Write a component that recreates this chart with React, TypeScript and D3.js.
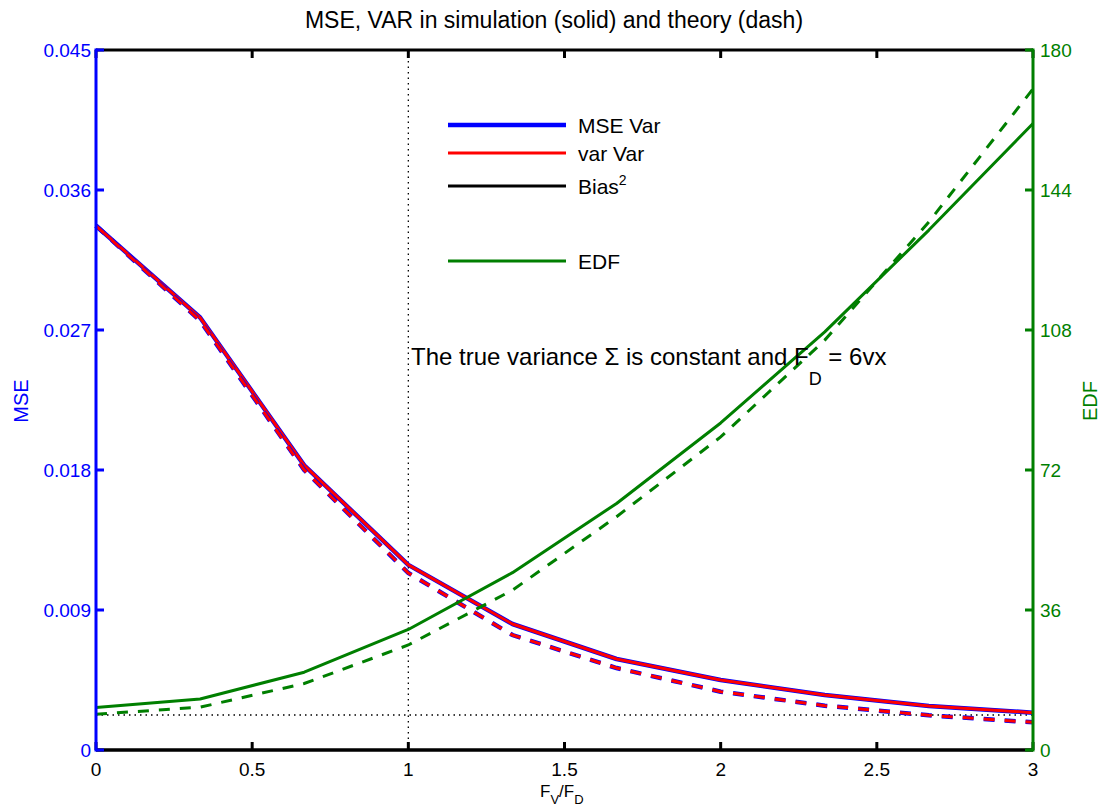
import React from "react";
import * as d3 from "d3";

// ---- data ----
const xs = [0, 1 / 3, 2 / 3, 1, 4 / 3, 5 / 3, 2, 7 / 3, 8 / 3, 3];
const mseSim = [0.0337, 0.0278, 0.0183, 0.0119, 0.0081, 0.00585, 0.0045, 0.00354, 0.00283, 0.0024];
const varSim = [0.0337, 0.0278, 0.0183, 0.0119, 0.0081, 0.00585, 0.0045, 0.00354, 0.00283, 0.0024];
const mseTheory = [0.0337, 0.0276, 0.018, 0.01138, 0.00739, 0.00527, 0.00375, 0.00285, 0.00223, 0.00178];
const varTheory = [0.0337, 0.0276, 0.018, 0.01138, 0.00739, 0.00527, 0.00375, 0.00285, 0.00223, 0.00178];
const biasSim = [0, 0, 0, 0, 0, 0, 0, 0, 0, 0];
const edfSim = [10.9, 13.1, 20.0, 31.0, 45.6, 63.4, 84.1, 107.5, 133.7, 161.1];
const edfTheory = [9.2, 11.0, 17.1, 27.0, 41.1, 60.0, 80.5, 105.4, 135.8, 170.0];
const refLevel = 0.00225;
const refX = 1;

const xTicks = [0, 0.5, 1, 1.5, 2, 2.5, 3];
const xTickLabels = ["0", "0.5", "1", "1.5", "2", "2.5", "3"];
const yLeftTicks = [0, 0.009, 0.018, 0.027, 0.036, 0.045];
const yLeftLabels = ["0", "0.009", "0.018", "0.027", "0.036", "0.045"];
const yRightTicks = [0, 36, 72, 108, 144, 180];
const yRightLabels = ["0", "36", "72", "108", "144", "180"];

const legendItems = [
  { label: "MSE Var", color: "#0000ff", w: 4.5 },
  { label: "var Var", color: "#ff0000", w: 3 },
  { label: "Bias", sup: "2", color: "#000000", w: 3 },
  { label: "EDF", color: "#007f00", w: 3 },
];

const BLUE = "#0000ff";
const RED = "#ff0000";
const GREEN = "#007f00";
const FONT = "'Liberation Sans', Arial, sans-serif";

export default function App() {
  const L = 96, R = 1033, T = 50, B = 750;
  const x = d3.scaleLinear().domain([0, 3]).range([L, R]);
  const yL = d3.scaleLinear().domain([0, 0.045]).range([B, T]);
  const yR = d3.scaleLinear().domain([0, 180]).range([B, T]);

  const lineL = (vals: number[]) =>
    d3.line<number>().x((_, i) => x(xs[i])).y((v) => yL(v))(vals) || "";
  const lineR = (vals: number[]) =>
    d3.line<number>().x((_, i) => x(xs[i])).y((v) => yR(v))(vals) || "";

  const dash = "11,10";
  const legY = [125, 153, 186, 261];
  const tickFs = 19;

  return (
    <svg width={1102} height={808} style={{ position: "absolute", left: 0, top: 0, background: "#fff" }} fontFamily={FONT}>
      <rect x={0} y={0} width={1102} height={808} fill="#fff" />
      {/* reference dotted lines */}
      <line x1={x(refX)} x2={x(refX)} y1={T} y2={B} stroke="#000" strokeWidth={1.3} strokeDasharray="1.5,4" />
      <line x1={L} x2={R} y1={yL(refLevel)} y2={yL(refLevel)} stroke="#000" strokeWidth={1.3} strokeDasharray="1.5,4" />

      {/* left-axis series */}
      <path d={lineL(mseSim)} fill="none" stroke={BLUE} strokeWidth={4.5} strokeLinejoin="round" />
      <path d={lineL(varSim)} fill="none" stroke={RED} strokeWidth={3} strokeLinejoin="round" />
      <path d={lineL(mseTheory)} fill="none" stroke={BLUE} strokeWidth={4.5} strokeDasharray={dash} />
      <path d={lineL(varTheory)} fill="none" stroke={RED} strokeWidth={3} strokeDasharray={dash} />
      <path d={lineL(biasSim)} fill="none" stroke="#000" strokeWidth={3} />

      {/* right-axis series */}
      <path d={lineR(edfSim)} fill="none" stroke={GREEN} strokeWidth={3} strokeLinejoin="round" />
      <path d={lineR(edfTheory)} fill="none" stroke={GREEN} strokeWidth={3} strokeDasharray={dash} />

      {/* axes frame */}
      <line x1={L} x2={R} y1={B} y2={B} stroke="#000" strokeWidth={3} />
      <line x1={L} x2={R} y1={T} y2={T} stroke="#000" strokeWidth={3} />
      {xTicks.map((t, i) => (
        <g key={"xt" + i}>
          <line x1={x(t)} x2={x(t)} y1={B} y2={B - 8} stroke="#000" strokeWidth={3} />
          <line x1={x(t)} x2={x(t)} y1={T} y2={T + 8} stroke="#000" strokeWidth={3} />
          <text x={x(t)} y={776} fontSize={tickFs} textAnchor="middle" fill="#000">{xTickLabels[i]}</text>
        </g>
      ))}
      <line x1={L} x2={L} y1={T - 1.5} y2={B + 1.5} stroke={BLUE} strokeWidth={3} />
      {yLeftTicks.map((t, i) => (
        <g key={"yl" + i}>
          <line x1={L} x2={L + 8} y1={yL(t)} y2={yL(t)} stroke={BLUE} strokeWidth={3} />
          <text x={91} y={yL(t) + 7} fontSize={tickFs} textAnchor="end" fill={BLUE}>{yLeftLabels[i]}</text>
        </g>
      ))}
      <line x1={R} x2={R} y1={T - 1.5} y2={B + 1.5} stroke={GREEN} strokeWidth={3} />
      {yRightTicks.map((t, i) => (
        <g key={"yr" + i}>
          <line x1={R} x2={R - 8} y1={yR(t)} y2={yR(t)} stroke={GREEN} strokeWidth={3} />
          <text x={1040} y={yR(t) + 7} fontSize={tickFs} textAnchor="start" fill={GREEN}>{yRightLabels[i]}</text>
        </g>
      ))}

      {/* title and axis labels */}
      <text x={554} y={28} fontSize={23} textAnchor="middle" fill="#000">MSE, VAR in simulation (solid) and theory (dash)</text>
      <text transform="translate(28,401) rotate(-90)" fontSize={20} textAnchor="middle" fill={BLUE}>MSE</text>
      <text transform="translate(1097,401) rotate(-90)" fontSize={20} textAnchor="middle" fill={GREEN}>EDF</text>
      <text x={540} y={797} fontSize={17} fill="#000">
        F<tspan fontSize={13} dy={7}>V</tspan><tspan dy={-7}>/F</tspan><tspan fontSize={13} dy={7}>D</tspan>
      </text>

      {/* annotation */}
      <text x={411} y={365} fontSize={24} fill="#000">
        The true variance Σ is constant and F<tspan fontSize={18} dy={20}>D</tspan><tspan dy={-20}> = 6vx</tspan>
      </text>

      {/* legend */}
      {legendItems.map((it, i) => (
        <g key={"lg" + i}>
          <line x1={448} x2={566} y1={legY[i]} y2={legY[i]} stroke={it.color} strokeWidth={it.w} />
          <text x={578} y={legY[i] + 7.5} fontSize={21} fill="#000">
            {it.label}
            {it.sup ? <tspan fontSize={14} dy={-9}>{it.sup}</tspan> : null}
          </text>
        </g>
      ))}
    </svg>
  );
}
